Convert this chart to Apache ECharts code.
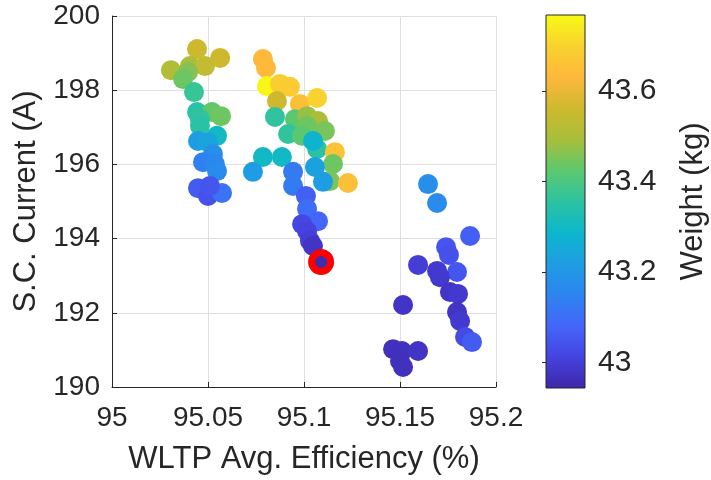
<!DOCTYPE html>
<html lang="en">
<head>
    <meta charset="utf-8">
    <title>WLTP efficiency vs S.C. current</title>
    <script src="https://cdn.jsdelivr.net/npm/echarts@6/dist/echarts.min.js"></script>
    <style>
        html, body {margin: 0; padding: 0; background: #fff;}
        #main {width: 711px; height: 480px;}
    </style>
</head>
<body>
<div id="main"></div>
<script type="text/javascript">
    // WLTP avg. efficiency (%), S.C. current (A), weight (kg) per design
    var efficiency = [
        95.0443, 95.0563, 95.0307, 95.0406, 95.0484, 95.0396, 95.0370, 95.0427, 95.0443, 95.0521,
        95.0568, 95.0458, 95.0458, 95.0547, 95.0448, 95.0500, 95.0526, 95.0474, 95.0536, 95.0547,
        95.0448, 95.0500, 95.0573, 95.0510,
        95.0786, 95.0802, 95.0807, 95.0875, 95.0927, 95.0859, 95.0979, 95.1068, 95.0849, 95.0953,
        95.1016, 95.1073, 95.1109, 95.1016, 95.0917, 95.0990, 95.1068, 95.1161, 95.1151, 95.0786,
        95.0885, 95.0734, 95.1057, 95.0943, 95.0943, 95.1135, 95.1229, 95.1099, 95.1010, 95.1016,
        95.1073, 95.0990, 95.1016, 95.1031, 95.1047, 95.1047,
        95.1646, 95.1693, 95.1865, 95.1740, 95.1755, 95.1594, 95.1693, 95.1797, 95.1708, 95.1760,
        95.1802, 95.1516, 95.1797, 95.1813, 95.1839, 95.1875, 95.1464, 95.1510, 95.1594, 95.1500,
        95.1516
    ];
    var current = [
        199.11, 198.87, 198.54, 198.65, 198.65, 198.49, 198.30, 197.95, 197.41, 197.41,
        197.30, 197.22, 197.04, 196.77, 196.63, 196.60, 196.28, 196.06, 196.01, 195.82,
        195.36, 195.15, 195.23, 195.42,
        198.84, 198.60, 198.11, 198.17, 198.09, 197.71, 197.63, 197.79, 197.28, 197.22,
        197.30, 197.17, 196.90, 197.04, 196.82, 196.77, 196.42, 196.33, 196.01, 196.20,
        196.20, 195.80, 195.93, 195.80, 195.42, 195.55, 195.50, 195.53, 195.15, 194.80,
        194.47, 194.39, 194.20, 193.94, 193.80, 196.63,
        195.47, 194.96, 194.07, 193.77, 193.56, 193.29, 193.13, 193.10, 192.96, 192.56,
        192.51, 192.21, 192.02, 191.78, 191.35, 191.21, 191.02, 190.97, 190.97, 190.70,
        190.54
    ];
    var weight = [
        43.56, 43.56, 43.51, 43.50, 43.54, 43.46, 43.44, 43.37, 43.35, 43.43,
        43.44, 43.36, 43.35, 43.30, 43.22, 43.24, 43.18, 43.14, 43.16, 43.17,
        43.06, 43.04, 43.11, 43.05,
        43.63, 43.63, 43.76, 43.69, 43.68, 43.56, 43.65, 43.70, 43.36, 43.42,
        43.48, 43.50, 43.45, 43.44, 43.36, 43.42, 43.35, 43.66, 43.44, 43.30,
        43.30, 43.22, 43.23, 43.13, 43.13, 43.45, 43.65, 43.22, 43.07, 43.10,
        43.08, 43.02, 43.01, 43.00, 42.98, 43.28,
        43.18, 43.17, 43.07, 43.05, 43.04, 43.00, 42.99, 43.05, 42.99, 42.98,
        42.99, 42.98, 42.98, 42.99, 43.03, 43.06, 42.97, 42.97, 42.98, 42.97,
        42.97
    ];
    // the design circled in red
    var markedPoint = [95.1089, 193.37, 42.98];

    var xTicks = [95, 95.05, 95.1, 95.15, 95.2];
    var yTicks = [190, 192, 194, 196, 198, 200];
    var weightTicks = [43, 43.2, 43.4, 43.6];
    var weightRange = [42.944, 43.768];

    // parula-like colours, low -> high
    var parula = ['#3e26a8', '#4543e0', '#4466f8', '#2d84f0', '#1f9de3', '#0cb6cc', '#2dc3a0',
        '#5dc86e', '#a8be3a', '#cfb92e', '#feb83c', '#f8d22e', '#f9fb14'];

    var textColor = '#262626';
    var font = 'Liberation Sans';

    var points = [];
    for (var i = 0; i < efficiency.length; i++) {
        points.push([efficiency[i], current[i], weight[i]]);
    }

    var gradientStops = parula.map(function (c, k) {
        return {offset: k / (parula.length - 1), color: c};
    });

    function drawColorbar(params, api) {
        var topLeft = api.coord([api.value(0), api.value(3)]);
        var bottomRight = api.coord([api.value(2), api.value(1)]);
        return {
            type: 'rect',
            shape: {
                x: topLeft[0], y: topLeft[1],
                width: bottomRight[0] - topLeft[0],
                height: bottomRight[1] - topLeft[1]
            },
            style: {
                fill: new echarts.graphic.LinearGradient(0, 1, 0, 0, gradientStops),
                stroke: textColor,
                lineWidth: 1
            }
        };
    }

    var myChart = echarts.init(document.getElementById('main'));

    var option = {
        animation: false,
        textStyle: {fontFamily: font, color: textColor},
        grid: [
            {left: 112, right: 215, top: 16, bottom: 92},
            {left: 546, width: 39, top: 15, height: 373}
        ],
        xAxis: [
            {
                gridIndex: 0,
                type: 'value',
                min: xTicks[0],
                max: xTicks[xTicks.length - 1],
                interval: 0.05,
                name: 'WLTP Avg. Efficiency (%)',
                nameLocation: 'middle',
                nameGap: 57,
                nameTextStyle: {fontSize: 31, color: textColor, fontFamily: font},
                axisLine: {lineStyle: {color: textColor, width: 1}},
                axisTick: {inside: true, length: 5, lineStyle: {color: textColor}},
                axisLabel: {fontSize: 28, color: textColor, margin: 17, fontFamily: font},
                splitLine: {show: true, lineStyle: {color: '#dfdfdf'}}
            },
            {
                gridIndex: 1, type: 'value', min: 0, max: 1, show: false
            }
        ],
        yAxis: [
            {
                gridIndex: 0,
                type: 'value',
                min: yTicks[0],
                max: yTicks[yTicks.length - 1],
                interval: 2,
                name: 'S.C. Current (A)',
                nameLocation: 'middle',
                nameRotate: 90,
                nameGap: 66,
                nameTextStyle: {fontSize: 31, color: textColor, fontFamily: font},
                axisLine: {show: true, lineStyle: {color: textColor, width: 1}},
                axisTick: {show: true, inside: true, length: 5, lineStyle: {color: textColor}},
                axisLabel: {fontSize: 28, color: textColor, margin: 12, fontFamily: font},
                splitLine: {show: true, lineStyle: {color: '#dfdfdf'}}
            },
            {
                gridIndex: 1,
                type: 'value',
                position: 'right',
                min: weightRange[0],
                max: weightRange[1],
                z: 10,
                name: 'Weight (kg)',
                nameLocation: 'middle',
                nameRotate: 90,
                nameGap: 93,
                nameTextStyle: {fontSize: 31, color: textColor, fontFamily: font},
                axisLine: {show: false},
                axisTick: {
                    show: true, inside: true, length: 4,
                    customValues: weightTicks,
                    lineStyle: {color: textColor}
                },
                axisLabel: {
                    fontSize: 30, color: textColor, margin: 13, fontFamily: font,
                    customValues: weightTicks,
                    formatter: function (v) { return String(+v.toFixed(1)); }
                },
                splitLine: {show: false}
            }
        ],
        visualMap: {
            show: false,
            type: 'continuous',
            seriesIndex: 0,
            dimension: 2,
            min: weightRange[0],
            max: weightRange[1],
            inRange: {color: parula}
        },
        series: [
            {
                type: 'scatter',
                xAxisIndex: 0,
                yAxisIndex: 0,
                symbolSize: 20,
                itemStyle: {opacity: 1},
                data: points
            },
            {
                type: 'scatter',
                xAxisIndex: 0,
                yAxisIndex: 0,
                symbolSize: 19,
                z: 5,
                itemStyle: {color: '#3f2daa', borderColor: '#ff0000', borderWidth: 7, opacity: 1},
                data: [markedPoint]
            },
            {
                type: 'custom',
                xAxisIndex: 1,
                yAxisIndex: 1,
                renderItem: drawColorbar,
                data: [[0, weightRange[0], 1, weightRange[1]]]
            }
        ]
    };
    myChart.setOption(option);
</script>
</body>
</html>
